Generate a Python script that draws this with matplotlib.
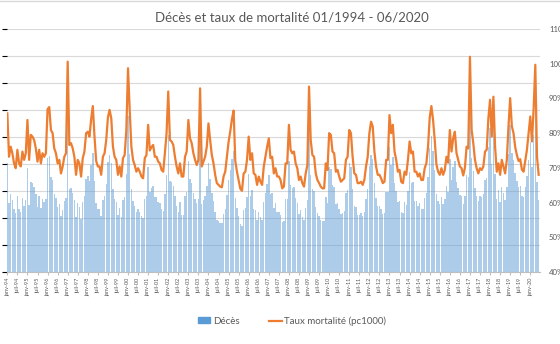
import numpy as np
import matplotlib
matplotlib.use("Agg")
import matplotlib.pyplot as plt
from matplotlib.patches import Patch
from matplotlib.lines import Line2D
from matplotlib.ticker import MultipleLocator, FuncFormatter

# Décès mensuels (milliers), janvier 1994 -> juin 2020
deces = [
    50.1, 42.8, 44.5, 43.4, 41.7, 40.9, 44.0, 41.7, 41.2, 43.7, 42.3, 43.4,  # 1994
    49.2, 42.4, 46.7, 46.4, 45.8, 44.4, 42.1, 44.1, 41.9, 43.6, 43.0, 43.6,  # 1995
    51.2, 51.5, 47.6, 47.1, 44.5, 43.7, 42.0, 42.6, 40.3, 41.5, 43.1, 43.7,  # 1996
    59.5, 45.3, 45.6, 44.7, 43.3, 40.2, 42.7, 42.1, 39.9, 43.0, 44.1, 47.3,  # 1997
    47.7, 46.8, 49.8, 52.1, 46.8, 42.7, 41.7, 41.7, 40.3, 43.4, 44.0, 46.3,  # 1998
    50.3, 51.6, 50.2, 45.3, 43.6, 43.0, 40.5, 41.9, 40.2, 43.3, 43.9, 48.1,  # 1999
    58.9, 51.8, 45.4, 43.2, 42.3, 41.1, 41.7, 41.1, 40.3, 40.0, 43.5, 44.0,  # 2000
    49.4, 44.9, 45.5, 45.9, 43.8, 43.8, 43.0, 42.7, 41.6, 41.3, 44.4, 47.9,  # 2001
    55.3, 46.9, 46.6, 46.0, 44.0, 42.3, 41.1, 42.9, 40.6, 40.6, 44.0, 44.9,  # 2002
    50.5, 47.3, 46.5, 44.7, 43.6, 42.7, 43.6, 56.0, 42.5, 43.3, 44.1, 45.9,  # 2003
    50.1, 47.2, 44.6, 43.1, 41.1, 39.7, 39.4, 39.1, 39.0, 40.8, 41.7, 44.3,  # 2004
    47.0, 48.9, 51.0, 52.5, 43.7, 41.8, 40.4, 38.8, 38.5, 41.5, 41.8, 43.9,  # 2005
    48.1, 44.0, 45.2, 41.7, 41.4, 39.6, 41.1, 40.2, 39.6, 42.9, 44.6, 46.3,  # 2006
    48.0, 44.5, 44.7, 41.8, 42.7, 41.2, 41.2, 40.6, 39.2, 39.5, 43.6, 43.6,  # 2007
    50.5, 46.1, 45.5, 45.8, 43.7, 42.8, 40.8, 41.4, 40.2, 39.6, 41.9, 43.4,  # 2008
    57.4, 48.0, 45.3, 45.0, 42.1, 40.9, 40.3, 39.7, 39.4, 39.4, 43.8, 42.7,  # 2009
    49.4, 49.1, 46.1, 45.8, 42.5, 42.8, 41.6, 40.7, 41.0, 41.3, 44.6, 45.2,  # 2010
    50.1, 49.5, 45.3, 42.3, 42.1, 40.6, 40.6, 40.9, 40.3, 41.2, 43.6, 45.3,  # 2011
    49.7, 51.7, 50.9, 46.4, 43.7, 42.2, 42.2, 41.6, 40.7, 41.0, 44.9, 44.9,  # 2012
    53.1, 49.8, 51.3, 46.5, 45.0, 42.9, 43.2, 41.1, 40.9, 42.9, 42.4, 45.0,  # 2013
    48.5, 46.4, 46.7, 43.1, 43.1, 42.2, 42.8, 41.6, 41.6, 43.7, 44.6, 47.6,  # 2014
    53.0, 55.1, 52.5, 48.9, 44.5, 43.2, 42.6, 43.8, 42.6, 43.5, 45.9, 44.8,  # 2015
    50.9, 47.0, 49.4, 50.6, 46.7, 45.5, 44.3, 44.0, 42.6, 44.0, 47.9, 47.6,  # 2016
    64.4, 51.1, 48.7, 45.6, 44.1, 43.2, 44.1, 43.8, 44.4, 47.1, 47.5, 53.2,  # 2017
    56.7, 50.0, 57.3, 48.2, 43.6, 45.1, 43.0, 45.8, 44.6, 43.3, 45.8, 51.8,  # 2018
    57.2, 52.1, 50.8, 48.3, 46.8, 45.7, 46.0, 44.1, 43.8, 45.7, 47.8, 50.8,  # 2019
    54.0, 49.4, 55.4, 63.5, 46.6, 43.3,                                      # 2020
]

# Taux de mortalité (pc1000, affiché en %)
taux = [
    85.7, 73.2, 76.1, 74.2, 71.3, 69.9, 75.2, 71.3, 70.4, 74.7, 72.3, 74.2,
    83.8, 72.3, 79.5, 79.0, 78.0, 75.6, 71.8, 75.2, 71.3, 74.2, 73.2, 74.2,
    86.9, 87.5, 80.9, 80.0, 75.6, 74.2, 71.3, 72.3, 68.4, 70.4, 73.2, 74.2,
    100.6, 76.6, 77.1, 75.6, 73.2, 68.0, 72.3, 71.3, 67.5, 72.8, 74.7, 80.0,
    80.4, 79.0, 84.0, 87.8, 79.0, 72.0, 70.4, 70.4, 68.0, 73.2, 74.2, 78.0,
    84.5, 86.7, 84.3, 76.1, 73.2, 72.3, 68.0, 70.4, 67.5, 72.8, 73.7, 80.9,
    98.7, 86.7, 76.1, 72.3, 70.8, 68.9, 69.9, 68.9, 67.5, 67.0, 72.8, 73.7,
    82.4, 75.0, 76.0, 76.6, 73.2, 73.2, 71.8, 71.3, 69.4, 68.9, 74.2, 80.0,
    92.0, 78.0, 77.6, 76.6, 73.2, 70.4, 68.4, 71.3, 67.5, 67.5, 73.2, 74.7,
    83.8, 78.5, 77.1, 74.2, 72.3, 70.8, 72.3, 92.9, 70.4, 71.8, 73.2, 76.1,
    82.8, 78.0, 73.7, 71.3, 68.0, 65.6, 65.1, 64.6, 64.4, 67.5, 68.9, 73.2,
    77.5, 80.5, 84.0, 86.5, 72.0, 68.9, 66.5, 64.0, 63.4, 68.4, 68.9, 72.3,
    79.0, 72.3, 74.2, 68.4, 68.0, 65.1, 67.5, 66.0, 65.1, 70.4, 73.2, 76.1,
    78.5, 72.8, 73.2, 68.4, 69.9, 67.5, 67.5, 66.5, 64.1, 64.6, 71.3, 71.3,
    82.4, 75.2, 74.2, 74.7, 71.3, 69.9, 66.5, 67.5, 65.6, 64.6, 68.4, 70.8,
    93.4, 78.0, 73.7, 73.2, 68.4, 66.5, 65.6, 64.6, 64.1, 64.1, 71.3, 69.4,
    80.0, 79.5, 74.7, 74.2, 68.9, 69.4, 67.5, 66.0, 66.5, 67.0, 72.3, 73.2,
    80.9, 80.0, 73.2, 68.4, 68.0, 65.6, 65.6, 66.0, 65.1, 66.5, 70.4, 73.2,
    80.0, 83.3, 81.9, 74.7, 70.4, 68.0, 68.0, 67.0, 65.6, 66.0, 72.3, 72.3,
    85.2, 80.0, 82.4, 74.7, 72.3, 68.9, 69.4, 66.0, 65.6, 68.9, 68.0, 72.3,
    77.6, 74.2, 74.7, 68.9, 68.9, 67.5, 68.4, 66.5, 66.5, 69.9, 71.3, 76.1,
    84.5, 87.8, 83.8, 78.0, 71.0, 68.9, 68.0, 69.9, 68.0, 69.4, 73.2, 71.5,
    80.9, 74.7, 78.5, 80.4, 74.2, 72.3, 70.4, 69.9, 67.8, 70.0, 76.1, 75.6,
    102.0, 81.0, 77.1, 72.3, 69.9, 68.4, 69.9, 69.4, 70.4, 74.7, 75.2, 84.3,
    89.6, 79.0, 90.5, 76.1, 68.9, 71.3, 68.0, 72.3, 70.4, 68.4, 72.3, 81.9,
    90.1, 82.0, 80.0, 76.0, 73.7, 72.0, 72.5, 69.5, 68.9, 72.0, 75.2, 80.0,
    84.8, 77.6, 87.0, 99.7, 73.2, 68.0,
]

mois_labels = [
    "janv-94", "juil-94", "janv-95", "juil-95", "janv-96", "juil-96",
    "janv-97", "juil-97", "janv-98", "juil-98", "janv-99", "juil-99",
    "janv-00", "juil-00", "janv-01", "juil-01", "janv-02", "juil-02",
    "janv-03", "juil-03", "janv-04", "juil-04", "janv-05", "juil-05",
    "janv-06", "juil-06", "janv-07", "juil-07", "janv-08", "juil-08",
    "janv-09", "juil-09", "janv-10", "juil-10", "janv-11", "juil-11",
    "janv-12", "juil-12", "janv-13", "juil-13", "janv-14", "juil-14",
    "janv-15", "juil-15", "janv-16", "juil-16", "janv-17", "juil-17",
    "janv-18", "juil-18", "janv-19", "juil-19", "janv-20",
]

BLEU = "#5B9BD5"
ORANGE = "#ED7D31"
GRIS = "#595959"

plt.rcParams["font.family"] = ["Lato", "DejaVu Sans"]

fig = plt.figure(figsize=(5.6, 3.44), dpi=100)
ax = fig.add_axes([6.5 / 560, 1 - 272 / 344, (540 - 6.5) / 560, (272 - 29) / 344])

x = np.arange(len(deces))
ax.bar(x, deces, width=0.85, color=BLEU, alpha=0.5, lw=0, zorder=2)
ax.set_ylim(30, 75)
ax.set_xlim(-0.5, len(deces) - 0.2)
ax.yaxis.set_major_locator(MultipleLocator(5))
ax.grid(axis="y", color="#D9D9D9", lw=0.8)
ax.set_axisbelow(True)
ax.tick_params(axis="y", left=False, labelleft=False)
for s in ["top", "left", "right"]:
    ax.spines[s].set_visible(False)
ax.spines["bottom"].set_color("#BFBFBF")
ax.set_xticks(np.arange(0, len(deces), 6))
ax.set_xticklabels(mois_labels, rotation=90, fontsize=4, color=GRIS)
ax.tick_params(axis="x", length=2.5, color="#BFBFBF", pad=1.5)

# taux de mortalité sur l'axe secondaire
ax2 = ax.twinx()
ax2.plot(x, taux, color=ORANGE, lw=1.6, zorder=3)
ax2.set_ylim(40, 110)
ax2.yaxis.set_major_locator(MultipleLocator(10))
ax2.yaxis.set_major_formatter(FuncFormatter(lambda v, p: "%d%%" % v))
ax2.tick_params(axis="y", right=False, labelsize=5.6, labelcolor=GRIS, pad=3)
for s in ax2.spines.values():
    s.set_visible(False)

fig.text(292 / 560, 1 - 17 / 344, "Décès et taux de mortalité 01/1994 - 06/2020",
         ha="center", va="center", fontsize=9.5, color=GRIS)

handles = [Patch(color=BLEU), Line2D([0], [0], color=ORANGE, lw=1.6)]
fig.legend(handles, ["Décès", "Taux mortalité (pc1000)"], loc="center",
           bbox_to_anchor=(292 / 560, 1 - 321 / 344), ncol=2, frameon=False,
           fontsize=7, labelcolor=GRIS, handlelength=1.3, handleheight=0.6,
           handletextpad=0.3, columnspacing=3.0)

fig.add_artist(Line2D([0, 1], [0.997, 0.997], color="#D9D9D9", lw=1))

fig.savefig("out.png", dpi=100)
